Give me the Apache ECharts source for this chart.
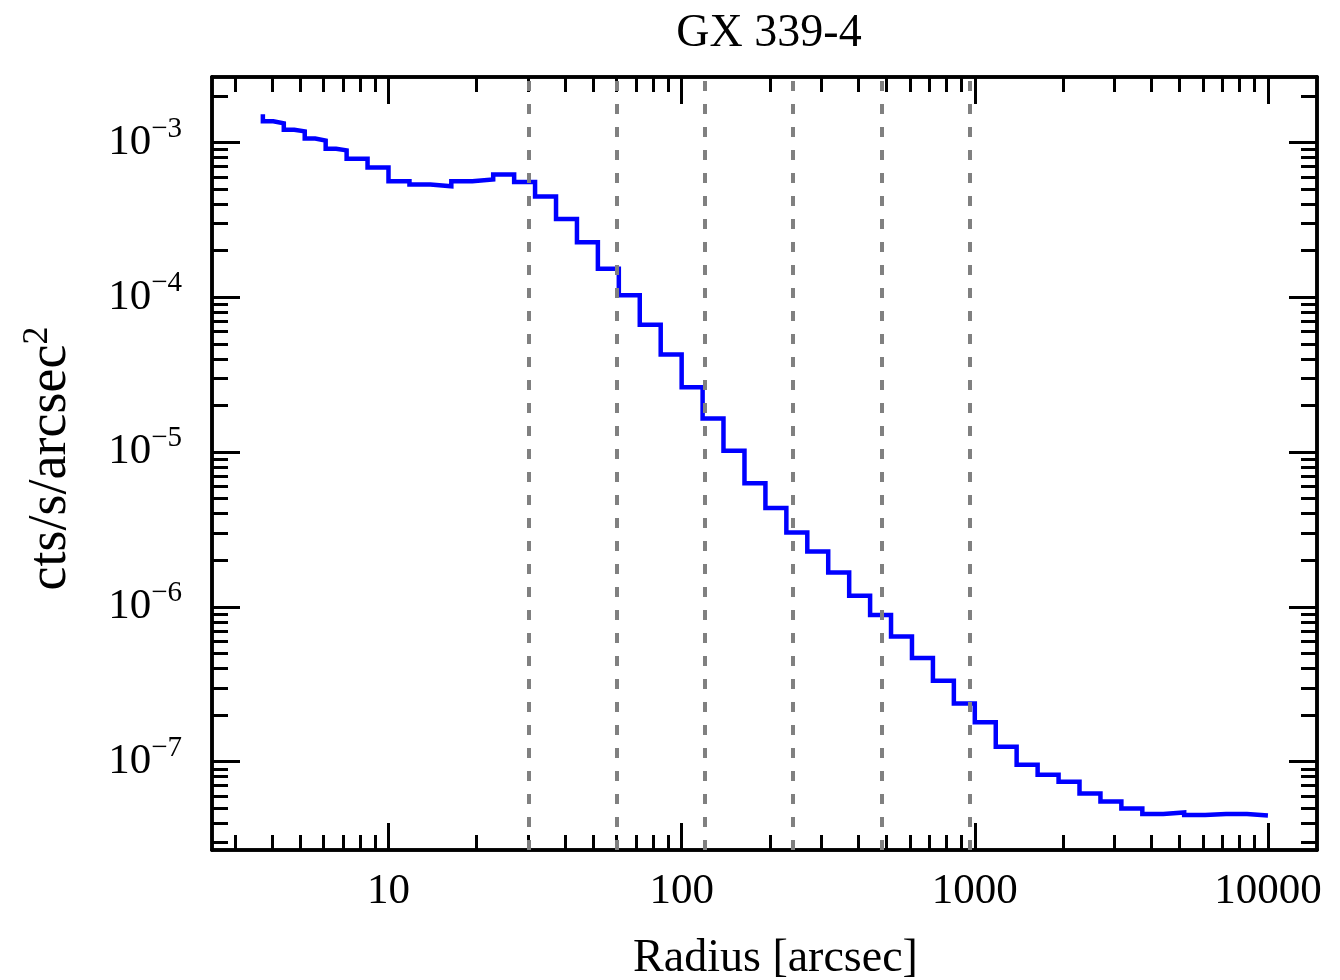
<!DOCTYPE html>
<html><head><meta charset="utf-8">
<script src="https://cdn.jsdelivr.net/npm/echarts@6/dist/echarts.min.js"></script>
<style>html,body{margin:0;padding:0;background:#fff}#c{width:1340px;height:980px}</style>
</head><body><div id="c"></div>
<script>
const chartTitle = 'GX 339-4';
const xName = 'Radius [arcsec]';
const yNameBase = 'cts/s/arcsec';
const yNameSup = '2';

// step edges (arcsec) and level of the step ending at each edge
const radius = [3.728, 4.047, 4.394, 4.770, 5.179, 5.623, 6.105, 6.628, 7.197, 8.483,
  10.0, 11.79, 13.89, 16.38, 19.31, 22.76, 26.83, 31.62, 37.28, 43.94,
  51.79, 61.05, 71.97, 84.83, 100.0, 117.9, 138.9, 163.8, 193.1, 227.6,
  268.3, 316.2, 372.8, 439.4, 517.9, 610.5, 719.7, 848.3, 1000, 1179,
  1389, 1638, 1931, 2276, 2683, 3162, 3728, 4394, 5179, 6105,
  7197, 8483, 10000];
const rate = [1.52e-3, 1.37e-3, 1.33e-3, 1.21e-3, 1.18e-3, 1.06e-3, 1.03e-3, 9.1e-4, 8.9e-4, 7.85e-4,
  6.9e-4, 5.62e-4, 5.35e-4, 5.22e-4, 5.62e-4, 5.77e-4, 6.21e-4, 5.55e-4, 4.48e-4, 3.21e-4,
  2.27e-4, 1.53e-4, 1.03e-4, 6.64e-5, 4.27e-5, 2.62e-5, 1.65e-5, 1.02e-5, 6.29e-6, 4.35e-6,
  3.03e-6, 2.28e-6, 1.67e-6, 1.18e-6, 8.87e-7, 6.43e-7, 4.68e-7, 3.34e-7, 2.38e-7, 1.80e-7,
  1.25e-7, 9.57e-8, 8.24e-8, 7.43e-8, 6.24e-8, 5.54e-8, 4.99e-8, 4.59e-8, 4.70e-8, 4.52e-8,
  4.59e-8, 4.59e-8, 4.50e-8];
const dashedRadii = [30, 60, 120, 240, 480, 960];

const xMajorTicks = [10, 100, 1000, 10000];
const yMajorTicks = [1e-7, 1e-6, 1e-5, 1e-4, 1e-3];
const xRange = [2.5, 14700];
const yRange = [2.69e-8, 2.65e-3];

function minorTicks(range, fromExp, toExp) {
  const out = [];
  for (let e = fromExp; e <= toExp; e++) {
    for (let k = 2; k <= 9; k++) {
      const v = parseFloat((k * Math.pow(10, e)).toPrecision(6));
      if (v > range[0] && v < range[1]) out.push(v);
    }
  }
  return out;
}
const xMinorTicks = minorTicks(xRange, 0, 4);
const yMinorTicks = minorTicks(yRange, -9, -3);

const FONT = '"Liberation Serif", "DejaVu Serif", serif';
const AXW = 3.5;
const TKW = 3;

function mkAxis(kind, position, ticks, len, showLabels, range) {
  const ax = {
    type: 'log', logBase: 10, position: position,
    min: range[0], max: range[1],
    axisLine: { show: true, onZero: false, lineStyle: { color: '#000', width: AXW } },
    axisTick: { show: true, inside: true, length: len, customValues: ticks,
      lineStyle: { color: '#000', width: TKW } },
    splitLine: { show: false },
    minorTick: { show: false },
    axisLabel: { show: false }
  };
  if (showLabels) {
    if (kind === 'x') {
      ax.axisLabel = { show: true, customValues: ticks, margin: 20,
        fontFamily: FONT, fontSize: 43, color: '#000',
        formatter: v => String(Math.round(v)) };
      ax.name = xName;
      ax.nameLocation = 'middle';
      ax.nameGap = 86;
      ax.nameTextStyle = { fontFamily: FONT, fontSize: 46, color: '#000', padding: [0, 0, 0, 22] };
    } else {
      ax.axisLabel = { show: true, customValues: ticks, margin: 30,
        fontFamily: FONT, color: '#000',
        formatter: v => {
          const e = Math.round(Math.log10(v));
          return '{b|10}{s|' + (e < 0 ? '\u2212' : '') + Math.abs(e) + '}';
        },
        rich: {
          b: { fontFamily: FONT, fontSize: 43, lineHeight: 56, color: '#000' },
          s: { fontFamily: FONT, fontSize: 29, lineHeight: 29, verticalAlign: 'top', color: '#000' }
        } };
      ax.name = '{a|' + yNameBase + '}{s|' + yNameSup + '}';
      ax.nameLocation = 'middle';
      ax.nameGap = 130;
      ax.nameTextStyle = { fontFamily: FONT, fontSize: 54, color: '#000', padding: [0, 0, 0, 10],
        rich: {
          a: { fontFamily: FONT, fontSize: 54, lineHeight: 62, color: '#000' },
          s: { fontFamily: FONT, fontSize: 36, lineHeight: 36, verticalAlign: 'top', color: '#000' }
        } };
    }
  }
  return ax;
}

const xAxes = [
  mkAxis('x', 'bottom', xMajorTicks, 27, true, xRange),
  mkAxis('x', 'bottom', xMinorTicks, 15, false, xRange),
  mkAxis('x', 'top', xMajorTicks, 27, false, xRange),
  mkAxis('x', 'top', xMinorTicks, 15, false, xRange)
];
const yAxes = [
  mkAxis('y', 'left', yMajorTicks, 28, true, yRange),
  mkAxis('y', 'left', yMinorTicks, 16, false, yRange),
  mkAxis('y', 'right', yMajorTicks, 28, false, yRange),
  mkAxis('y', 'right', yMinorTicks, 16, false, yRange)
];

const lineData = radius.map((r, i) => [r, rate[i]]);

const option = {
  animation: false,
  backgroundColor: '#fff',
  title: { text: chartTitle, left: 764, top: 6, textAlign: 'center',
    textStyle: { fontFamily: FONT, fontSize: 46, fontWeight: 'normal', color: '#000' } },
  grid: { left: 212, right: 23, top: 77, bottom: 130, containLabel: false, outerBoundsMode: 'none' },
  xAxis: xAxes,
  yAxis: yAxes,
  series: [
    { type: 'line', name: 'profile', xAxisIndex: 0, yAxisIndex: 0, data: lineData,
      step: 'start', symbol: 'none', z: 2,
      lineStyle: { color: '#0000ff', width: 4.5, join: 'miter' } },
    { type: 'line', name: 'bounds', xAxisIndex: 0, yAxisIndex: 0, data: [], z: 5,
      markLine: { silent: true, symbol: ['none', 'none'], label: { show: false },
        z: 5,
        lineStyle: { color: '#808080', type: [10, 13], width: 4 },
        data: dashedRadii.map(v => ({ xAxis: v })) } }
  ]
};
const chart = echarts.init(document.getElementById('c'), null, { renderer: 'canvas' });
chart.setOption(option);
</script>
</body></html>
